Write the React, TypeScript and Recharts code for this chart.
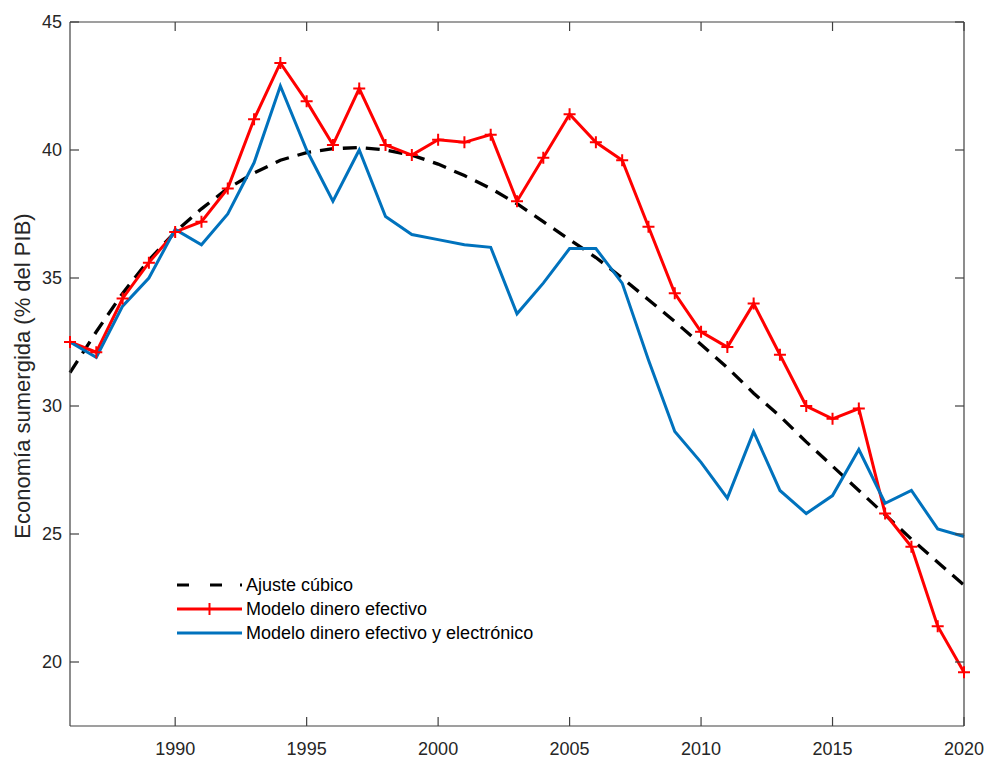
import React from 'react';
import { LineChart, Line, XAxis, YAxis, Legend } from 'recharts';

const years = [
  1986, 1987, 1988, 1989, 1990, 1991, 1992, 1993, 1994, 1995, 1996, 1997,
  1998, 1999, 2000, 2001, 2002, 2003, 2004, 2005, 2006, 2007, 2008, 2009,
  2010, 2011, 2012, 2013, 2014, 2015, 2016, 2017, 2018, 2019, 2020,
];

const ajusteCubico = [
  31.3, 32.9, 34.4, 35.7, 36.8, 37.7, 38.5, 39.1, 39.6, 39.9, 40.05, 40.1,
  40.0, 39.8, 39.45, 39.0, 38.5, 37.9, 37.2, 36.5, 35.8, 35.0, 34.15, 33.3,
  32.4, 31.5, 30.5, 29.6, 28.6, 27.65, 26.7, 25.75, 24.8, 23.9, 23.0,
];

const dineroEfectivo = [
  32.5, 32.1, 34.2, 35.6, 36.8, 37.2, 38.5, 41.2, 43.4, 41.9, 40.2, 42.4,
  40.2, 39.8, 40.4, 40.3, 40.6, 38.0, 39.7, 41.4, 40.3, 39.6, 37.0, 34.4,
  32.9, 32.3, 34.0, 32.0, 30.0, 29.5, 29.9, 25.8, 24.5, 21.4, 19.6,
];

const dineroElectronico = [
  32.5, 31.9, 33.9, 35.0, 36.9, 36.3, 37.5, 39.5, 42.5, 40.0, 38.0, 40.0,
  37.4, 36.7, 36.5, 36.3, 36.2, 33.6, 34.8, 36.15, 36.15, 34.8, 31.8, 29.0,
  27.8, 26.4, 29.0, 26.7, 25.8, 26.5, 28.3, 26.2, 26.7, 25.2, 24.9,
];

const xTicks = [1990, 1995, 2000, 2005, 2010, 2015, 2020];
const yTicks = [20, 25, 30, 35, 40, 45];

const data = years.map((year, i) => ({
  year,
  cubico: ajusteCubico[i],
  efectivo: dineroEfectivo[i],
  electronico: dineroElectronico[i],
}));

const FONT = '"Liberation Sans", Arial, Helvetica, sans-serif';
const AXIS = '#404040';
const TEXT = '#262626';
const RED = '#ff0000';
const BLUE = '#0072bd';
const TICK = 9;

const BottomTick = ({ x, y, payload }: any) => (
  <g>
    <line x1={x} x2={x} y1={y} y2={y - TICK} stroke={AXIS} strokeWidth={1.2} />
    <text x={x} y={y + 29} textAnchor="middle" fontSize={18} fontFamily={FONT} fill={TEXT}>
      {payload.value}
    </text>
  </g>
);

const TopTick = ({ x, y }: any) => (
  <line x1={x} x2={x} y1={y} y2={y + TICK} stroke={AXIS} strokeWidth={1.2} />
);

const LeftTick = ({ x, y, payload }: any) => (
  <g>
    <line x1={x} x2={x + TICK} y1={y} y2={y} stroke={AXIS} strokeWidth={1.2} />
    <text x={x - 8} y={y + 6} textAnchor="end" fontSize={18} fontFamily={FONT} fill={TEXT}>
      {payload.value}
    </text>
  </g>
);

const RightTick = ({ x, y }: any) => (
  <line x1={x} x2={x - TICK} y1={y} y2={y} stroke={AXIS} strokeWidth={1.2} />
);

const PlusDot = ({ cx, cy, index }: any) => {
  if (cx == null || cy == null) return null;
  return (
    <path
      key={`plus-${index}`}
      d={`M${cx - 6},${cy}h12M${cx},${cy - 6}v12`}
      stroke={RED}
      strokeWidth={2}
      fill="none"
    />
  );
};

const YLabel = () => (
  <text
    x={22}
    y={376}
    transform="rotate(-90 22 376)"
    textAnchor="middle"
    dominantBaseline="central"
    fontSize={22}
    fontFamily={FONT}
    fill={TEXT}
  >
    Economía sumergida (% del PIB)
  </text>
);

const legendItems = [
  { label: 'Ajuste cúbico', color: '#000', dash: '12 21 12 18 2 0', plus: false },
  { label: 'Modelo dinero efectivo', color: RED, dash: undefined, plus: true },
  { label: 'Modelo dinero efectivo y electrónico', color: BLUE, dash: undefined, plus: false },
];

const LegendBox = () => (
  <div style={{ fontFamily: FONT, fontSize: 18, color: '#000', lineHeight: '24px' }}>
    {legendItems.map((item) => (
      <div key={item.label} style={{ display: 'flex', alignItems: 'center', height: 24 }}>
        <svg width={71} height={24} style={{ display: 'block' }}>
          <line
            x1={2}
            x2={67}
            y1={12}
            y2={12}
            stroke={item.color}
            strokeWidth={3}
            strokeDasharray={item.dash}
          />
          {item.plus && <path d="M34.5,6v12" stroke={RED} strokeWidth={2} />}
        </svg>
        <span>{item.label}</span>
      </div>
    ))}
  </div>
);

export default function App() {
  return (
    <div style={{ position: 'absolute', left: 0, top: 0, background: '#fff' }}>
      <LineChart
        width={990}
        height={761}
        data={data}
        margin={{ top: 21, right: 25, bottom: 0, left: 0 }}
      >
        <XAxis
          xAxisId="b"
          dataKey="year"
          type="number"
          orientation="bottom"
          domain={[1986, 2020]}
          ticks={xTicks}
          height={35}
          tickSize={0}
          tickMargin={0}
          tickLine={false}
          tick={<BottomTick />}
          axisLine={{ stroke: AXIS, strokeWidth: 1.2 }}
          interval={0}
        />
        <XAxis
          xAxisId="t"
          dataKey="year"
          type="number"
          orientation="top"
          domain={[1986, 2020]}
          ticks={xTicks}
          height={1}
          tickSize={0}
          tickMargin={0}
          tickLine={false}
          tick={<TopTick />}
          axisLine={{ stroke: AXIS, strokeWidth: 1.2 }}
          interval={0}
        />
        <YAxis
          yAxisId="l"
          type="number"
          orientation="left"
          domain={[17.5, 45]}
          ticks={yTicks}
          width={70}
          tickSize={0}
          tickMargin={0}
          tickLine={false}
          tick={<LeftTick />}
          axisLine={{ stroke: AXIS, strokeWidth: 1.2 }}
          interval={0}
          label={<YLabel />}
        />
        <YAxis
          yAxisId="r"
          type="number"
          orientation="right"
          domain={[17.5, 45]}
          ticks={yTicks}
          width={1}
          tickSize={0}
          tickMargin={0}
          tickLine={false}
          tick={<RightTick />}
          axisLine={{ stroke: AXIS, strokeWidth: 1.2 }}
          interval={0}
        />
        <Legend
          layout="vertical"
          align="center"
          verticalAlign="middle"
          content={<LegendBox />}
          wrapperStyle={{ left: 175, top: 573, width: 420, height: 75 }}
        />
        {/* invisible series so the top and right box axes get drawn */}
        <Line
          xAxisId="t"
          yAxisId="r"
          dataKey="cubico"
          stroke="none"
          dot={false}
          activeDot={false}
          legendType="none"
          isAnimationActive={false}
        />
        <Line
          xAxisId="b"
          yAxisId="l"
          dataKey="cubico"
          stroke="#000"
          strokeWidth={3.3}
          strokeDasharray="14 9"
          dot={false}
          activeDot={false}
          isAnimationActive={false}
        />
        <Line
          xAxisId="b"
          yAxisId="l"
          dataKey="efectivo"
          stroke={RED}
          strokeWidth={3}
          dot={<PlusDot />}
          activeDot={false}
          isAnimationActive={false}
        />
        <Line
          xAxisId="b"
          yAxisId="l"
          dataKey="electronico"
          stroke={BLUE}
          strokeWidth={3}
          dot={false}
          activeDot={false}
          isAnimationActive={false}
        />
      </LineChart>
    </div>
  );
}
